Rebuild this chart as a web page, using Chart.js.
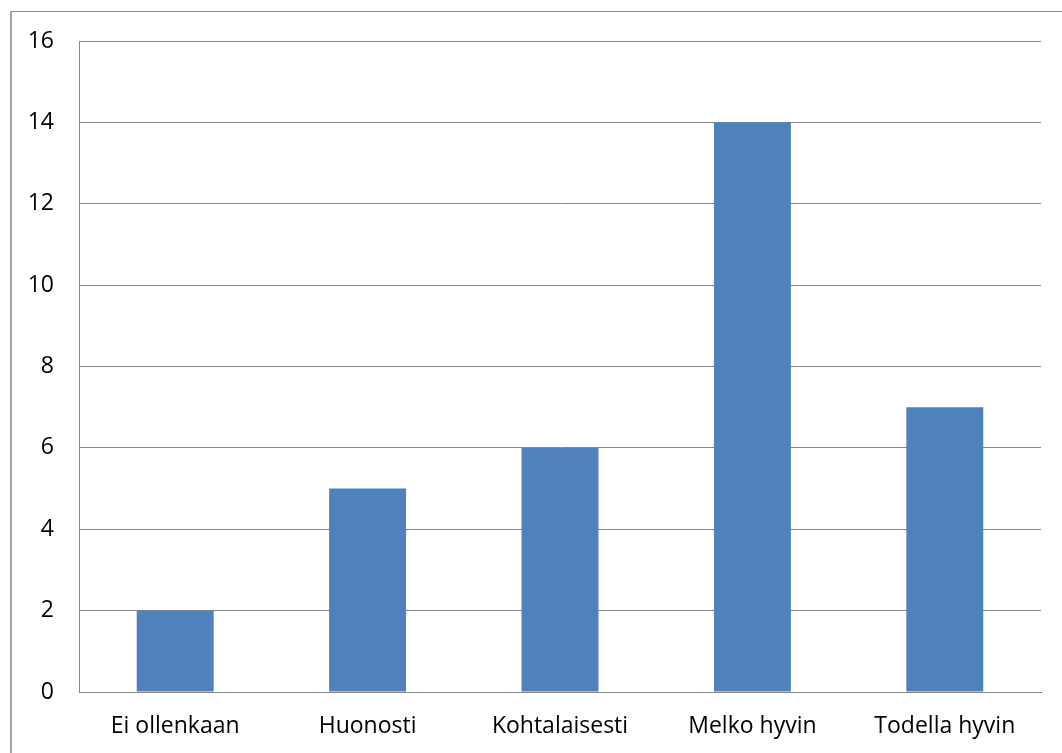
<!DOCTYPE html>
<html>
<head>
<meta charset="utf-8">
<script src="https://cdn.jsdelivr.net/npm/chart.js@4/dist/chart.umd.min.js"></script>
<style>
  html, body { margin: 0; padding: 0; background: #fff; overflow: hidden; }
  #wrap { position: relative; width: 1062px; height: 753px; }
  #frame { position: absolute; left: 10px; top: 11px; width: 1100px; height: 800px;
           border-left: 2px solid #a4a4a4; border-top: 1px solid #8c8c8c; }
  canvas { position: absolute; left: 0; top: 0; }
</style>
</head>
<body>
<div id="wrap">
  <div id="frame"></div>
  <canvas id="graf" width="1062" height="753"></canvas>
</div>
<script>
// arviot: vastausten lukumäärät per vaihtoehto
const kategoriat = ['Ei ollenkaan', 'Huonosti', 'Kohtalaisesti', 'Melko hyvin', 'Todella hyvin'];
const vastaukset = [2, 5, 6, 14, 7];
const yMax = 16;
const yAskel = 2;

const harmaa = '#868686';
const fontti = 'Open Sans, Liberation Sans, sans-serif';

new Chart(document.getElementById('graf'), {
  type: 'bar',
  data: {
    labels: kategoriat,
    datasets: [{ data: vastaukset, backgroundColor: '#4f81bd', barPercentage: 0.4, categoryPercentage: 1 }],
  },
  options: {
    responsive: false, animation: false,
    layout: { padding: { top: 41, right: 21, left: 0, bottom: 0 } },
    plugins: { legend: { display: false }, tooltip: { enabled: false } },
    scales: {
      x: {
        afterFit: (s) => { s.height = 61; },
        grid: { display: false, drawTicks: false },
        border: { color: harmaa, width: 1 },
        ticks: { color: '#000', padding: 21, font: { family: fontti, size: 23 }, maxRotation: 0 },
      },
      y: {
        min: 0, max: yMax,
        afterFit: (s) => { s.width = 79; },
        grid: { color: harmaa, lineWidth: 1, drawTicks: false },
        border: { color: harmaa, width: 1 },
        ticks: { stepSize: yAskel, color: '#000', padding: 25, font: { family: fontti, size: 23 } },
      },
    },
  },
});
</script>
</body>
</html>
